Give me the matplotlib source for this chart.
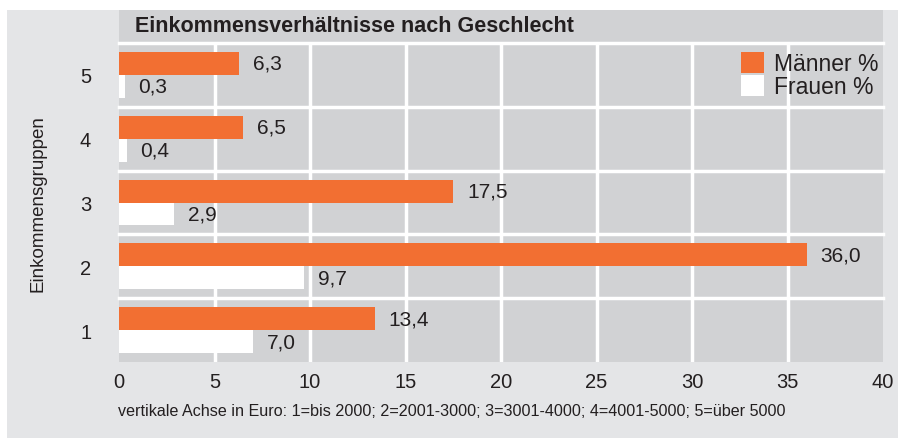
import matplotlib
matplotlib.use("Agg")
import matplotlib.pyplot as plt
from matplotlib.patches import Rectangle
import numpy as np

groups = [1, 2, 3, 4, 5]
maenner = [13.4, 36.0, 17.5, 6.5, 6.3]
frauen = [7.0, 9.7, 2.9, 0.4, 0.3]
x_ticks = [0, 5, 10, 15, 20, 25, 30, 35, 40]

title = "Einkommensverhältnisse nach Geschlecht"
footnote = "vertikale Achse in Euro: 1=bis 2000; 2=2001-3000; 3=3001-4000; 4=4001-5000; 5=über 5000"

ORANGE = "#f26f32"
PLOT_BG = "#d1d2d4"
OUTER_BG = "#e4e5e7"
TEXT = "#231f20"

plt.rcParams["font.family"] = ["Liberation Sans", "DejaVu Sans"]

W, H = 898, 439
fig = plt.figure(figsize=(W / 100, H / 100), dpi=100)
fig.patch.set_facecolor("white")


def fx(px):
    return px / W


def fy(py):
    return 1 - py / H


# outer light-grey panel
fig.patches.append(Rectangle((fx(7), 0), 1 - fx(7), fy(11), transform=fig.transFigure,
                             facecolor=OUTER_BG, edgecolor="none", zorder=-2))
# title bar
fig.patches.append(Rectangle((fx(119), fy(43)), fx(883 - 119), fy(11) - fy(43),
                             transform=fig.transFigure, facecolor=PLOT_BG,
                             edgecolor="none", zorder=-1))
fig.text(fx(135), (fy(11) + fy(43)) / 2, title, fontsize=15.5, fontweight="bold",
         color=TEXT, va="center", ha="left")

ax = fig.add_axes([fx(119), fy(363), fx(883 - 119), fy(44) - fy(363)])
ax.set_zorder(2)
ax.set_facecolor(PLOT_BG)

y = np.array(groups, dtype=float)
h = 0.36
ax.barh(y + h / 2, maenner, height=h, color=ORANGE, zorder=3, label="Männer %")
ax.barh(y - h / 2, frauen, height=h, color="white", zorder=3, label="Frauen %")

for yi, m, f in zip(y, maenner, frauen):
    ax.annotate(f"{m:.1f}".replace(".", ","), (m, yi + h / 2), xytext=(10, 0),
                textcoords="offset points", va="center", ha="left",
                fontsize=15, color=TEXT, zorder=4)
    ax.annotate(f"{f:.1f}".replace(".", ","), (f, yi - h / 2), xytext=(10, 0),
                textcoords="offset points", va="center", ha="left",
                fontsize=15, color=TEXT, zorder=4)

ax.set_xlim(0, 40)
ax.set_ylim(0.5, 5.5)
ax.set_xticks(x_ticks)
ax.set_xticklabels([str(t) for t in x_ticks], fontsize=14.5, color=TEXT)
ax.set_yticks(groups)
ax.set_yticklabels([str(g) for g in groups], fontsize=14.5, color=TEXT)
ax.tick_params(length=0)
ax.tick_params(axis="x", pad=7)
ax.tick_params(axis="y", pad=20)

for xv in x_ticks[1:-1]:
    ax.axvline(xv, color="white", linewidth=2.5, zorder=1)
for yv in [1.5, 2.5, 3.5, 4.5, 5.5]:
    ax.axhline(yv, color="white", linewidth=2.5, zorder=2, clip_on=False)
for s in ax.spines.values():
    s.set_visible(False)

ax.set_ylabel("Einkommensgruppen", fontsize=13.5, color=TEXT, labelpad=24)

leg = ax.legend(loc="upper right", bbox_to_anchor=(1.006, 1.0), frameon=False,
                fontsize=16.5, handlelength=1.0, handleheight=1.0, handletextpad=0.45,
                labelspacing=0.0, borderpad=0.4, borderaxespad=0.0)
for t in leg.get_texts():
    t.set_color(TEXT)

fig.text(fx(118), fy(412), footnote, fontsize=11.6, color=TEXT,
         va="center", ha="left")

fig.savefig("out.png", dpi=100)
